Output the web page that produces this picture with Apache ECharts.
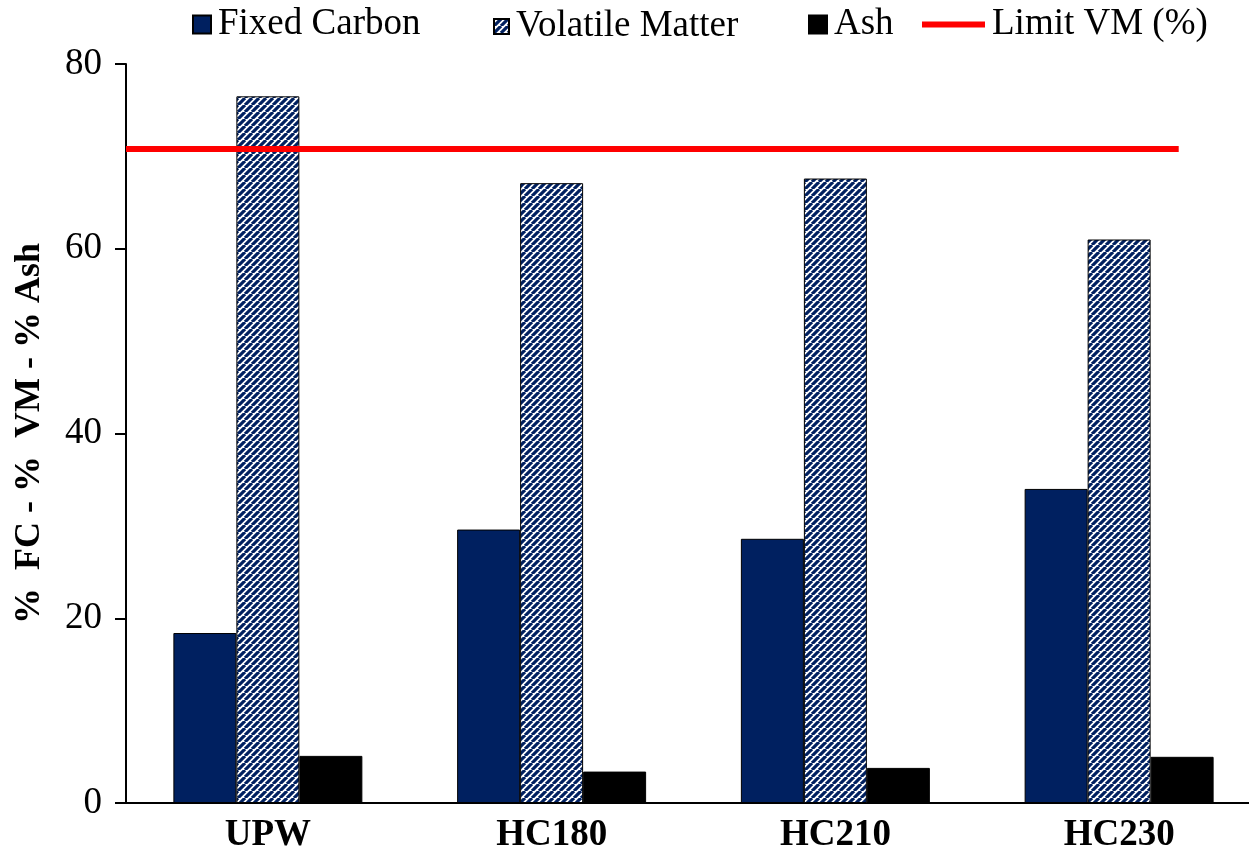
<!DOCTYPE html>
<html>
<head>
<meta charset="utf-8">
<script src="https://cdn.jsdelivr.net/npm/echarts@6/dist/echarts.min.js"></script>
<style>
  html, body { margin: 0; padding: 0; background: #ffffff; overflow: hidden; }
  /* plot area runs slightly past the right edge of the window */
  #chart { width: 1261px; height: 862px; }
</style>
</head>
<body>
<div id="chart"></div>
<script>
// Proximate analysis of the samples (wt %)
const categories = ['UPW', 'HC180', 'HC210', 'HC230'];
const fixedCarbon = [18.4, 29.6, 28.6, 34.0];
const volatileMatter = [76.5, 67.1, 67.6, 61.0];
const ash = [5.1, 3.4, 3.8, 5.0];
// Volatile matter limit, drawn across the categories
const limitVM = 70.8;
const limitSpan = [0, 3.71];
const yTicks = { min: 0, max: 80, interval: 20 };

const NAVY = '#002060';
const FONT = '"Liberation Serif", "Times New Roman", serif';

// Diagonal navy/white hatch for the volatile matter bars
function hatchPattern() {
  const s = 7;
  const c = document.createElement('canvas');
  c.width = s; c.height = s;
  const g = c.getContext('2d');
  g.fillStyle = '#ffffff';
  g.fillRect(0, 0, s, s);
  g.strokeStyle = NAVY;
  g.lineWidth = 3.2;
  g.beginPath();
  for (let k = -1; k <= 1; k++) {
    g.moveTo(k * s, s);
    g.lineTo(k * s + s, 0);
  }
  g.stroke();
  return { image: c, repeat: 'repeat' };
}

const chart = echarts.init(document.getElementById('chart'), null, { renderer: 'canvas' });

function legendAt(name, left, opts) {
  return Object.assign({
    data: [name],
    left: left,
    top: 6,
    icon: 'rect',
    itemWidth: 18,
    itemHeight: 18,
    itemGap: 0,
    padding: 0,
    textStyle: { fontFamily: FONT, fontSize: 37, color: '#000', padding: [0, 0, 0, 2] },
    selectedMode: false
  }, opts || {});
}

const option = {
  backgroundColor: '#ffffff',
  animation: false,
  legend: [
    legendAt('Fixed Carbon', 192),
    legendAt('Volatile Matter', 493, { itemWidth: 15, itemHeight: 15, top: 8 }),
    legendAt('Ash', 808),
    legendAt('Limit VM (%)', 922, { itemWidth: 63, itemHeight: 6 })
  ],
  grid: { left: 126, right: 0, top: 64, bottom: 59, containLabel: false },
  xAxis: [
    {
      type: 'category',
      data: categories,
      axisLine: { show: true, lineStyle: { color: '#000', width: 2 } },
      axisTick: { show: false },
      axisLabel: { fontFamily: FONT, fontSize: 37, fontWeight: 'bold', color: '#000', margin: 14 }
    },
    {
      type: 'value',
      min: 0,
      max: 4,
      show: false
    }
  ],
  yAxis: {
    type: 'value',
    min: yTicks.min,
    max: yTicks.max,
    interval: yTicks.interval,
    name: '%  FC - %  VM - % Ash',
    nameLocation: 'middle',
    nameRotate: 90,
    nameGap: 78,
    nameTextStyle: { fontFamily: FONT, fontSize: 36, fontWeight: 'bold', color: '#000' },
    axisLine: { show: true, lineStyle: { color: '#000', width: 2 } },
    axisTick: { show: true, inside: false, length: 11, lineStyle: { color: '#000', width: 2 } },
    axisLabel: { fontFamily: FONT, fontSize: 37, color: '#000', margin: 24 },
    splitLine: { show: false }
  },
  series: [
    {
      name: 'Fixed Carbon',
      type: 'bar',
      data: fixedCarbon,
      barGap: '0%',
      barCategoryGap: '33.4%',
      itemStyle: { color: NAVY, borderColor: '#000', borderWidth: 1 }
    },
    {
      name: 'Volatile Matter',
      type: 'bar',
      data: volatileMatter,
      itemStyle: { color: hatchPattern(), borderColor: '#000', borderWidth: 1 }
    },
    {
      name: 'Ash',
      type: 'bar',
      data: ash,
      itemStyle: { color: '#000', borderColor: '#000', borderWidth: 1 }
    },
    {
      name: 'Limit VM (%)',
      type: 'line',
      xAxisIndex: 1,
      data: limitSpan.map(x => [x, limitVM]),
      symbol: 'none',
      lineStyle: { color: '#ff0000', width: 6 },
      itemStyle: { color: '#ff0000' },
      z: 5
    }
  ]
};

chart.setOption(option);
</script>
</body>
</html>
